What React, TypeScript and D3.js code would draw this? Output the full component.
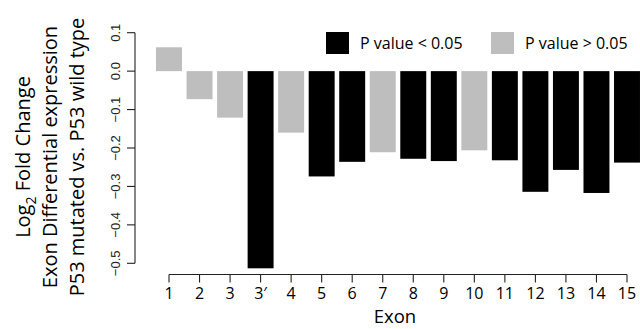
import React from "react";
import * as d3 from "d3";

const exons = ["1", "2", "3", "3\u2032", "4", "5", "6", "7", "8", "9", "10", "11", "12", "13", "14", "15"];
const foldChange = [0.062, -0.073, -0.121, -0.513, -0.16, -0.274, -0.236, -0.211, -0.228, -0.234, -0.206, -0.232, -0.314, -0.257, -0.317, -0.238];
const significant = [false, false, false, true, false, true, true, false, true, true, false, true, true, true, true, true];
const yTicks = [0.1, 0.0, -0.1, -0.2, -0.3, -0.4, -0.5];
const legendItems = [
  { label: "P value < 0.05", sig: true },
  { label: "P value > 0.05", sig: false },
];

const W = 640;
const H = 329;
const SANS = "'Open Sans', 'Noto Sans', sans-serif";
const ARIAL = "'Liberation Sans', Arial, sans-serif";

export default function App() {
  const x = d3.scalePoint<string>().domain(exons).range([169, 627]);
  const step = x.step();
  const bw = step * 0.85;
  const y = d3.scaleLinear().domain([0.1, -0.5]).range([32.7, 263.3]);
  const axisX = 135;
  const axisY = 274.5;
  const fmt = (v: number) => (v < 0 ? "\u2212" : "") + d3.format(".1f")(Math.abs(v));
  const color = (s: boolean) => (s ? "#000000" : "#bebebe");
  const titleCenter = 157;

  return (
    <svg width={W} height={H} style={{ position: "absolute", left: 0, top: 0, background: "#fff" }}>
      {/* bars */}
      {exons.map((e, i) => {
        const v = foldChange[i];
        const y0 = y(0);
        const y1 = y(v);
        return (
          <rect
            key={e}
            x={(x(e) as number) - bw / 2}
            y={Math.min(y0, y1)}
            width={bw}
            height={Math.abs(y1 - y0)}
            fill={color(significant[i])}
          />
        );
      })}

      {/* y axis */}
      <g stroke="#222" strokeWidth={1.1} fill="none">
        <line x1={axisX} x2={axisX} y1={y(0.1)} y2={y(-0.5)} />
        {yTicks.map((t) => (
          <line key={t} x1={axisX - 8} x2={axisX} y1={y(t)} y2={y(t)} />
        ))}
      </g>
      {yTicks.map((t) => (
        <text
          key={"l" + t}
          transform={`translate(${axisX - 15},${y(t)}) rotate(-90)`}
          textAnchor="middle"
          fontFamily={ARIAL}
          fontSize={13}
          fill="#222"
        >
          {fmt(t)}
        </text>
      ))}

      {/* y titles */}
      <g fontFamily={SANS} fontSize={20} fill="#000" textAnchor="middle">
        <text transform={`translate(30,${titleCenter}) rotate(-90)`}>
          Log<tspan fontSize={14} dy={6}>2</tspan>
          <tspan dy={-6}> Fold Change</tspan>
        </text>
        <text transform={`translate(57,${titleCenter}) rotate(-90)`}>Exon Differential expression</text>
        <text transform={`translate(84,${titleCenter}) rotate(-90)`}>P53 mutated vs. P53 wild type</text>
      </g>

      {/* x axis */}
      <g stroke="#222" strokeWidth={1.1} fill="none">
        <line x1={x(exons[0])} x2={x(exons[exons.length - 1])} y1={axisY} y2={axisY} />
        {exons.map((e) => (
          <line key={e} x1={x(e)} x2={x(e)} y1={axisY} y2={axisY + 8} />
        ))}
      </g>
      {exons.map((e) => (
        <text key={"xl" + e} x={x(e)} y={298.5} textAnchor="middle" fontFamily={SANS} fontSize={16} fill="#000">
          {e}
        </text>
      ))}
      <text x={(169 + 627) / 2 - 3} y={323} textAnchor="middle" fontFamily={SANS} fontSize={18.5} fill="#000">
        Exon
      </text>

      {/* legend */}
      {legendItems.map((it, i) => {
        const lx = i === 0 ? 326 : 491;
        return (
          <g key={it.label}>
            <rect x={lx} y={32} width={23} height={22} fill={color(it.sig)} />
            <text x={lx + 34} y={49} fontFamily={SANS} fontSize={16} fill="#000">
              {it.label}
            </text>
          </g>
        );
      })}
    </svg>
  );
}
